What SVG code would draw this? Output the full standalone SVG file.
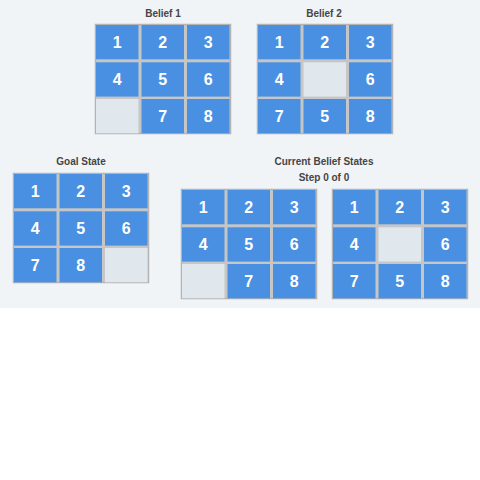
<svg xmlns="http://www.w3.org/2000/svg" width="480" height="480" viewBox="0 0 480 480">
<style>
.bg{fill:#f1f4f7}
.frame{fill:#c6c6c6;stroke:#b4b4b4;stroke-width:1.5}
.t{fill:#4a90e2}
.e{fill:#e0e7ed}
.n{font-family:"Liberation Sans",Arial,sans-serif;font-weight:bold;font-size:16px;fill:#ffffff;text-anchor:middle}
.h{font-family:"Liberation Sans",Arial,sans-serif;font-weight:bold;font-size:10px;fill:#454545;text-anchor:middle}
</style>
<rect x="0" y="0" width="480" height="480" fill="#ffffff"/>
<rect class="bg" x="0" y="0" width="480" height="308"/>

<g id="titles">
<text class="h" x="163" y="17">Belief 1</text>
<text class="h" x="324" y="17">Belief 2</text>
<text class="h" x="81" y="165">Goal State</text>
<text class="h" x="324" y="165">Current Belief States</text>
<text class="h" x="324" y="181">Step 0 of 0</text>
</g>

<g id="belief1" transform="translate(95,24)">
<rect class="frame" x="0.5" y="0.5" width="135" height="109"/>
<rect class="t" x="1" y="1" width="42.5" height="34.3"/>
<rect class="t" x="46.5" y="1" width="42.5" height="34.3"/>
<rect class="t" x="92" y="1" width="42.5" height="34.3"/>
<rect class="t" x="1" y="38.3" width="42.5" height="34.3"/>
<rect class="t" x="46.5" y="38.3" width="42.5" height="34.3"/>
<rect class="t" x="92" y="38.3" width="42.5" height="34.3"/>
<rect class="e" x="1" y="75" width="42.5" height="34.3"/>
<rect class="t" x="46.5" y="75" width="42.5" height="34.3"/>
<rect class="t" x="92" y="75" width="42.5" height="34.3"/>
<text class="n" x="22.25" y="24">1</text>
<text class="n" x="67.75" y="24">2</text>
<text class="n" x="113.25" y="24">3</text>
<text class="n" x="22.25" y="61.2">4</text>
<text class="n" x="67.75" y="61.2">5</text>
<text class="n" x="113.25" y="61.2">6</text>
<text class="n" x="67.75" y="98">7</text>
<text class="n" x="113.25" y="98">8</text>
</g>

<g id="belief2" transform="translate(257,24)">
<rect class="frame" x="0.5" y="0.5" width="135" height="109"/>
<rect class="t" x="1" y="1" width="42.5" height="34.3"/>
<rect class="t" x="46.5" y="1" width="42.5" height="34.3"/>
<rect class="t" x="92" y="1" width="42.5" height="34.3"/>
<rect class="t" x="1" y="38.3" width="42.5" height="34.3"/>
<rect class="e" x="46.5" y="38.3" width="42.5" height="34.3"/>
<rect class="t" x="92" y="38.3" width="42.5" height="34.3"/>
<rect class="t" x="1" y="75" width="42.5" height="34.3"/>
<rect class="t" x="46.5" y="75" width="42.5" height="34.3"/>
<rect class="t" x="92" y="75" width="42.5" height="34.3"/>
<text class="n" x="22.25" y="24">1</text>
<text class="n" x="67.75" y="24">2</text>
<text class="n" x="113.25" y="24">3</text>
<text class="n" x="22.25" y="61.2">4</text>
<text class="n" x="113.25" y="61.2">6</text>
<text class="n" x="22.25" y="98">7</text>
<text class="n" x="67.75" y="98">5</text>
<text class="n" x="113.25" y="98">8</text>
</g>

<g id="goal" transform="translate(13,173)">
<rect class="frame" x="0.5" y="0.5" width="135" height="109"/>
<rect class="t" x="1" y="1" width="42.5" height="34.3"/>
<rect class="t" x="46.5" y="1" width="42.5" height="34.3"/>
<rect class="t" x="92" y="1" width="42.5" height="34.3"/>
<rect class="t" x="1" y="38.3" width="42.5" height="34.3"/>
<rect class="t" x="46.5" y="38.3" width="42.5" height="34.3"/>
<rect class="t" x="92" y="38.3" width="42.5" height="34.3"/>
<rect class="t" x="1" y="75" width="42.5" height="34.3"/>
<rect class="t" x="46.5" y="75" width="42.5" height="34.3"/>
<rect class="e" x="92" y="75" width="42.5" height="34.3"/>
<text class="n" x="22.25" y="24">1</text>
<text class="n" x="67.75" y="24">2</text>
<text class="n" x="113.25" y="24">3</text>
<text class="n" x="22.25" y="61.2">4</text>
<text class="n" x="67.75" y="61.2">5</text>
<text class="n" x="113.25" y="61.2">6</text>
<text class="n" x="22.25" y="98">7</text>
<text class="n" x="67.75" y="98">8</text>
</g>

<g id="current1" transform="translate(181,189)">
<rect class="frame" x="0.5" y="0.5" width="135" height="109"/>
<rect class="t" x="1" y="1" width="42.5" height="34.3"/>
<rect class="t" x="46.5" y="1" width="42.5" height="34.3"/>
<rect class="t" x="92" y="1" width="42.5" height="34.3"/>
<rect class="t" x="1" y="38.3" width="42.5" height="34.3"/>
<rect class="t" x="46.5" y="38.3" width="42.5" height="34.3"/>
<rect class="t" x="92" y="38.3" width="42.5" height="34.3"/>
<rect class="e" x="1" y="75" width="42.5" height="34.3"/>
<rect class="t" x="46.5" y="75" width="42.5" height="34.3"/>
<rect class="t" x="92" y="75" width="42.5" height="34.3"/>
<text class="n" x="22.25" y="24">1</text>
<text class="n" x="67.75" y="24">2</text>
<text class="n" x="113.25" y="24">3</text>
<text class="n" x="22.25" y="61.2">4</text>
<text class="n" x="67.75" y="61.2">5</text>
<text class="n" x="113.25" y="61.2">6</text>
<text class="n" x="67.75" y="98">7</text>
<text class="n" x="113.25" y="98">8</text>
</g>

<g id="current2" transform="translate(332,189)">
<rect class="frame" x="0.5" y="0.5" width="135" height="109"/>
<rect class="t" x="1" y="1" width="42.5" height="34.3"/>
<rect class="t" x="46.5" y="1" width="42.5" height="34.3"/>
<rect class="t" x="92" y="1" width="42.5" height="34.3"/>
<rect class="t" x="1" y="38.3" width="42.5" height="34.3"/>
<rect class="e" x="46.5" y="38.3" width="42.5" height="34.3"/>
<rect class="t" x="92" y="38.3" width="42.5" height="34.3"/>
<rect class="t" x="1" y="75" width="42.5" height="34.3"/>
<rect class="t" x="46.5" y="75" width="42.5" height="34.3"/>
<rect class="t" x="92" y="75" width="42.5" height="34.3"/>
<text class="n" x="22.25" y="24">1</text>
<text class="n" x="67.75" y="24">2</text>
<text class="n" x="113.25" y="24">3</text>
<text class="n" x="22.25" y="61.2">4</text>
<text class="n" x="113.25" y="61.2">6</text>
<text class="n" x="22.25" y="98">7</text>
<text class="n" x="67.75" y="98">5</text>
<text class="n" x="113.25" y="98">8</text>
</g>
</svg>
